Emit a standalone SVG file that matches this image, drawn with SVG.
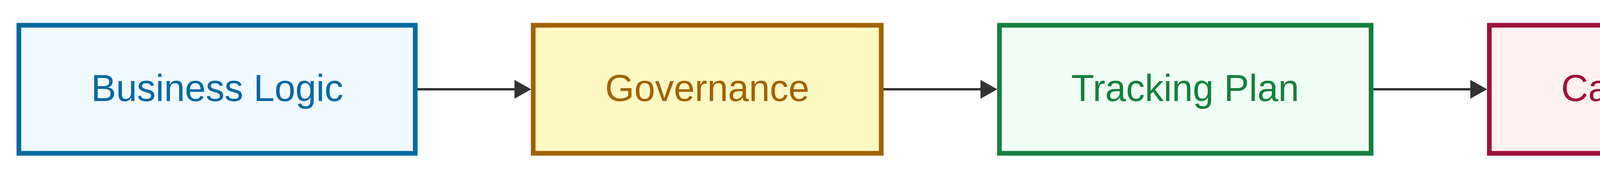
<svg xmlns="http://www.w3.org/2000/svg" width="4800" height="452" viewBox="0 0 4800 452">
  <defs>
    <style>
      .node rect { stroke-width: 12; }
      .node text { font-family: "Liberation Sans", Arial, sans-serif; font-size: 96px; text-anchor: middle; }
      .edge { stroke: #333333; stroke-width: 6; fill: none; }
      .blue rect { fill: #f0f9ff; stroke: #0369a1; }
      .blue text { fill: #0369a1; }
      .yellow rect { fill: #fef9c3; stroke: #a16207; }
      .yellow text { fill: #a16207; }
      .green rect { fill: #f0fdf4; stroke: #15803d; }
      .green text { fill: #15803d; }
      .rose rect { fill: #fff1f2; stroke: #9f1239; }
      .rose text { fill: #9f1239; }
    </style>
    <marker id="arrow" markerUnits="userSpaceOnUse" viewBox="0 0 43 48" refX="0" refY="24" markerWidth="43" markerHeight="48" orient="auto">
      <path d="M0,0 L43,24 L0,48 Z" fill="#333333"/>
    </marker>
  </defs>
  <rect x="0" y="0" width="4800" height="452" fill="#ffffff"/>
  <g id="connectors">
    <line class="edge" x1="1069" y1="228" x2="1317" y2="228" marker-end="url(#arrow)"/>
    <line class="edge" x1="2262" y1="228" x2="2510" y2="228" marker-end="url(#arrow)"/>
    <line class="edge" x1="3516" y1="228" x2="3764" y2="228" marker-end="url(#arrow)"/>
  </g>
  <g id="business-logic" class="node blue">
    <rect x="48.3" y="64.5" width="1014.7" height="327"/>
    <text x="556" y="258">Business Logic</text>
  </g>
  <g id="governance" class="node yellow">
    <rect x="1365" y="64.5" width="891" height="327"/>
    <text x="1810.5" y="258">Governance</text>
  </g>
  <g id="tracking-plan" class="node green">
    <rect x="2558.5" y="64.5" width="951.5" height="327"/>
    <text x="3034" y="258">Tracking Plan</text>
  </g>
  <g id="case-studies" class="node rose">
    <rect x="3812.7" y="64.5" width="939" height="327"/>
    <text x="4282" y="258">Case Studies</text>
  </g>
</svg>
